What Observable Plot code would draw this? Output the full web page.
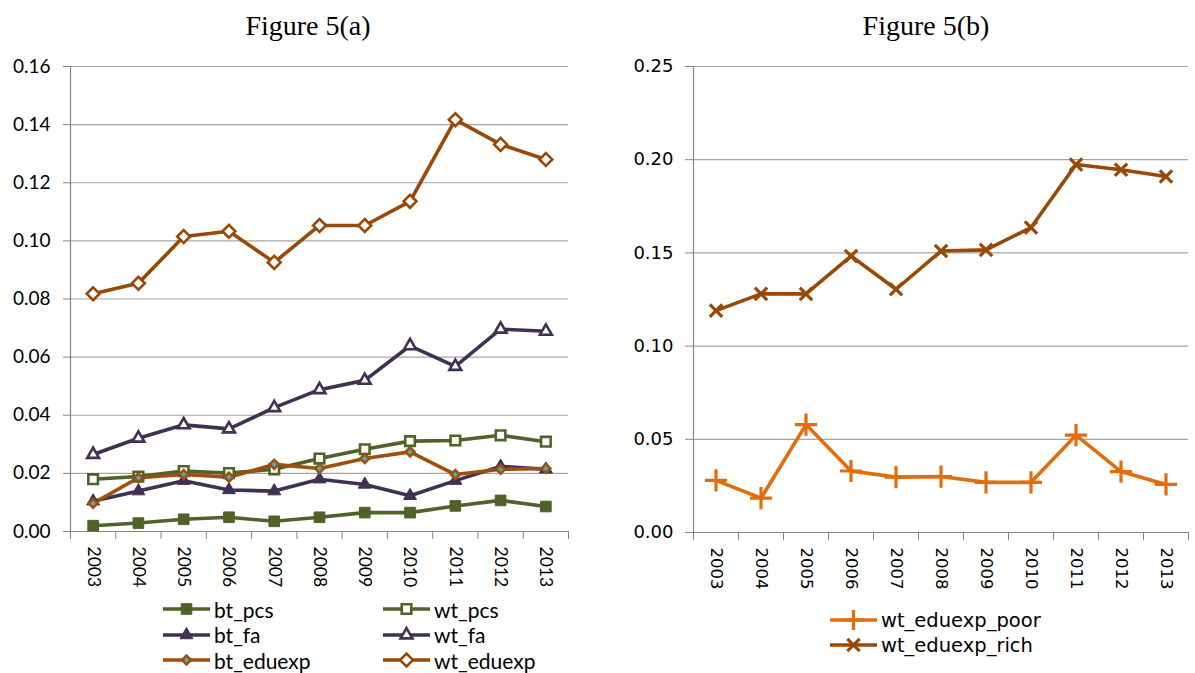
<!DOCTYPE html>
<html><head><meta charset="utf-8">
<script src="https://cdn.jsdelivr.net/npm/d3@7"></script>
<script src="https://cdn.jsdelivr.net/npm/@observablehq/plot@0.6"></script>
<style>
body{margin:0;background:#fff;}
#root{position:relative;width:1195px;height:673px;overflow:hidden;background:#fff;}
.title{position:absolute;top:12px;font-family:"Liberation Serif","Times New Roman",serif;font-size:28px;transform:translateX(-50%);white-space:nowrap;line-height:1;color:#000;}
.chart{position:absolute;top:40px;}
.lg-row{position:absolute;height:25px;display:flex;align-items:center;white-space:nowrap;color:#000;}
.lg-row svg{margin-right:4px;}
</style></head>
<body>
<div id="root">
  <div class="title" style="left:308px">Figure 5(a)</div>
  <div class="title" style="left:926px">Figure 5(b)</div>
  <div class="chart" id="chartA" style="left:0px"></div>
  <div class="chart" id="chartB" style="left:600px"></div>
  <div id="legendA"></div>
  <div id="legendB"></div>
</div>
<script>
// ---- data ----
const years = [2003, 2004, 2005, 2006, 2007, 2008, 2009, 2010, 2011, 2012, 2013];
const bt_pcs    = [0.0020, 0.0029, 0.0042, 0.0049, 0.0035, 0.0049, 0.0065, 0.0065, 0.0088, 0.0107, 0.0086];
const wt_pcs    = [0.0180, 0.0189, 0.0208, 0.0201, 0.0214, 0.0251, 0.0283, 0.0311, 0.0313, 0.0331, 0.0309];
const bt_fa     = [0.0104, 0.0139, 0.0175, 0.0143, 0.0139, 0.0180, 0.0162, 0.0123, 0.0175, 0.0224, 0.0214];
const wt_fa     = [0.0265, 0.0321, 0.0367, 0.0353, 0.0426, 0.0488, 0.0520, 0.0639, 0.0568, 0.0696, 0.0689];
const bt_eduexp = [0.0097, 0.0185, 0.0196, 0.0187, 0.0231, 0.0217, 0.0251, 0.0274, 0.0196, 0.0214, 0.0217];
const wt_eduexp = [0.0818, 0.0854, 0.1015, 0.1033, 0.0926, 0.1053, 0.1053, 0.1136, 0.1417, 0.1332, 0.1280];
const wt_eduexp_poor = [0.0280, 0.0184, 0.0579, 0.0330, 0.0297, 0.0300, 0.0269, 0.0269, 0.0522, 0.0327, 0.0258];
const wt_eduexp_rich = [0.1190, 0.1280, 0.1280, 0.1483, 0.1305, 0.1510, 0.1516, 0.1636, 0.1974, 0.1946, 0.1910];
const yTicksA = [0, 0.02, 0.04, 0.06, 0.08, 0.10, 0.12, 0.14, 0.16];
const yTicksB = [0, 0.05, 0.10, 0.15, 0.20, 0.25];

// ---- styles ----
const GREEN = "#4f6228", PURPLE = "#403152", BROWN = "#984807", BROWN2 = "#a04f0c", TEAL = "#4bacc6", ORANGE = "#e46c0a";
const GRID = "#a6a6a6", AXIS = "#868686";

const seriesA = [
  {name: "bt_pcs", values: bt_pcs, color: GREEN, symbol: "square", fill: GREEN, sw: 1, r: 6.0},
  {name: "wt_pcs", values: wt_pcs, color: GREEN, symbol: "square", fill: "#fff", sw: 2.6, r: 5.4},
  {name: "bt_fa", values: bt_fa, color: PURPLE, symbol: "triangle", fill: PURPLE, sw: 1, r: 4.8},
  {name: "wt_fa", values: wt_fa, color: PURPLE, symbol: "triangle", fill: "#fff", sw: 2.6, r: 4.4},
  {name: "bt_eduexp", values: bt_eduexp, color: BROWN2, symbol: "diamond2", fill: TEAL, sw: 2.6, r: 4.0},
  {name: "wt_eduexp", values: wt_eduexp, color: BROWN, symbol: "diamond2", fill: "#fff", sw: 2.6, r: 5.8}
];
const seriesB = [
  {name: "wt_eduexp_poor", values: wt_eduexp_poor, color: ORANGE, symbol: "plus", fill: "none", sw: 3.2, r: 7.2},
  {name: "wt_eduexp_rich", values: wt_eduexp_rich, color: BROWN, symbol: "times", fill: "none", sw: 3.2, r: 5.7}
];

const tidy = s => years.map((y, i) => ({year: y, value: s.values[i], series: s.name}));
const bounds = d3.range(years[0] - 0.5, years[years.length - 1] + 1, 1);

function seriesMarks(list) {
  const marks = [];
  for (const s of list) {
    const d = tidy(s);
    marks.push(Plot.line(d, {x: "year", y: "value", stroke: s.color, strokeWidth: 3.6, strokeLinejoin: "round"}));
  }
  for (const s of list) {
    const d = tidy(s);
    marks.push(Plot.dot(d, {x: "year", y: "value", symbol: s.symbol, r: s.r, fill: s.fill, stroke: s.color, strokeWidth: s.sw}));
  }
  return marks;
}

function chart(opts) {
  return Plot.plot({
    width: opts.width, height: 560,
    marginTop: opts.mt, marginBottom: opts.mb, marginLeft: opts.ml, marginRight: opts.mr,
    style: {fontFamily: opts.font, fontSize: opts.yFontSize + "px", color: "#000", background: "transparent", overflow: "visible"},
    x: {type: "linear", domain: [bounds[0], bounds[bounds.length - 1]]},
    y: {domain: opts.ydomain},
    marks: [
      Plot.gridY(opts.yticks, {stroke: GRID, strokeOpacity: 1, strokeWidth: 1.2}),
      Plot.ruleY([0], {stroke: AXIS, strokeWidth: 1.2}),
      Plot.ruleX([bounds[0]], {stroke: AXIS, strokeWidth: 1.2}),
      Plot.axisY({ticks: opts.yticks, tickFormat: d => d.toFixed(2), tickSize: opts.ytickSize, tickPadding: opts.ytickPad, stroke: AXIS, label: null}),
      Plot.axisX({ticks: bounds, tickFormat: () => "", tickSize: 8, stroke: AXIS, label: null}),
      Plot.axisX({ticks: years, tickFormat: d => String(d), tickSize: 0, tickPadding: opts.xtickPad, tickRotate: 90, fontSize: opts.xFontSize, label: null}),
      ...seriesMarks(opts.series)
    ]
  });
}

document.getElementById("chartA").append(chart({
  width: 590, mt: 26, mb: 69, ml: 70, mr: 22, font: "Lato", yFontSize: 19, xFontSize: 17.5,
  ydomain: [0, 0.16], yticks: yTicksA, ytickSize: 7, ytickPad: 13, xtickPad: 15, series: seriesA
}));
document.getElementById("chartB").append(chart({
  width: 595, mt: 26, mb: 68, ml: 93, mr: 7, font: "DejaVu Sans", yFontSize: 18, xFontSize: 16.5,
  ydomain: [0, 0.25], yticks: yTicksB, ytickSize: 8, ytickPad: 12, xtickPad: 15, series: seriesB
}));

// ---- legends ----
const symMap = {square: d3.symbolSquare, triangle: d3.symbolTriangle, diamond2: d3.symbolDiamond2, plus: d3.symbolPlus, times: d3.symbolTimes};
function legendRow(container, s, left, cy, font, size) {
  const row = document.createElement("div");
  row.className = "lg-row";
  row.style.left = left + "px";
  row.style.top = (cy - 12.5) + "px";
  row.style.fontFamily = font;
  row.style.fontSize = size + "px";
  const svg = d3.create("svg").attr("width", 47).attr("height", 20);
  svg.append("line").attr("x1", 0).attr("x2", 47).attr("y1", 10).attr("y2", 10)
    .attr("stroke", s.color).attr("stroke-width", 3.6);
  svg.append("path").attr("transform", "translate(23.5,10)")
    .attr("d", d3.symbol(symMap[s.symbol], Math.PI * s.r * s.r)())
    .attr("fill", s.fill).attr("stroke", s.color).attr("stroke-width", s.sw);
  row.append(svg.node());
  const t = document.createElement("span");
  t.textContent = s.name;
  row.append(t);
  container.append(row);
}
const la = document.getElementById("legendA");
const rowsY = [609, 634.5, 660];
seriesA.forEach((s, i) => legendRow(la, s, i % 2 === 0 ? 163 : 383, rowsY[Math.floor(i / 2)], "Lato", 21));
const lb = document.getElementById("legendB");
seriesB.forEach((s, i) => legendRow(lb, s, 830, [620, 645][i], "DejaVu Sans", 19.5));
</script>
</body></html>
